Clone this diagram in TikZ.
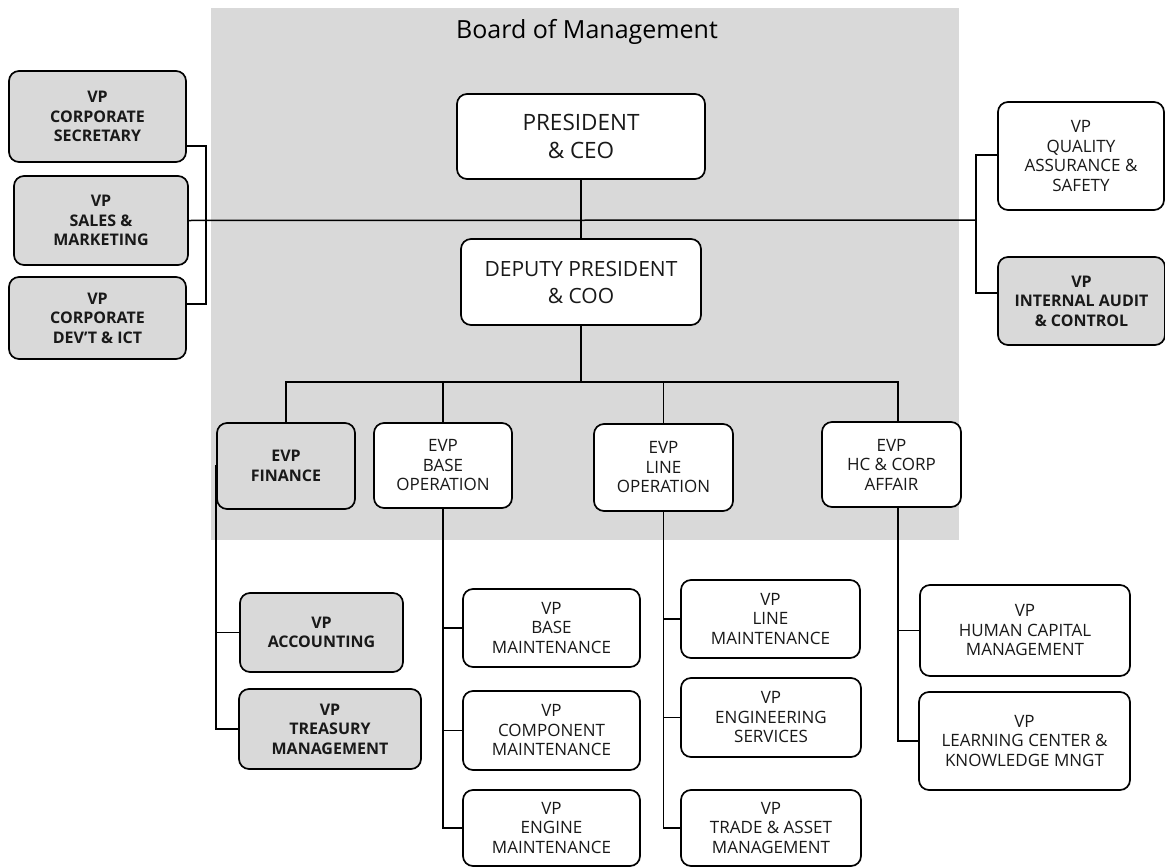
\documentclass[tikz,border=0pt]{standalone}
\usepackage{fontspec}
\setmainfont{Open Sans}
\usetikzlibrary{calc}
\tikzset{
  box/.style={draw=black, line width=1.7pt, rounded corners=10pt, align=center, inner sep=0pt, text=black!90, font=\fontsize{17}{19.5}\selectfont},
  wbox/.style={box, fill=white},
  gbox/.style={box, fill=black!15, font=\bfseries\fontsize{16}{19.5}\selectfont},
  bigbox/.style={wbox, font=\fontsize{22.5}{28}\selectfont},
  conn/.style={line width=1.5pt, line cap=rect},
}
\begin{document}
\begin{tikzpicture}[x=1pt,y=-1pt]
\useasboundingbox (0,0) rectangle (1165,867);
% board background
\fill[black!15] (211,8) rectangle (959,540);
\node[anchor=base, font=\fontsize{25}{28}\selectfont] (title) at (587,39) {Board of Management};

% top
\node[bigbox, minimum width=248, minimum height=85] (pres) at (581,136.5) {PRESIDENT\\ \& CEO};
\node[bigbox, minimum width=240, minimum height=86, font=\fontsize{21}{27}\selectfont] (dep) at (581,282) {DEPUTY PRESIDENT\\ \& COO};

% left staff
\node[gbox, minimum width=177, minimum height=91] (cs) at (97.5,116.5) {VP\\ CORPORATE\\ SECRETARY};
\node[gbox, minimum width=174, minimum height=89] (sm) at (101,220.5) {VP\\ SALES \&\\ MARKETING};
\node[gbox, minimum width=177, minimum height=82] (dv) at (97.5,318) {VP\\ CORPORATE\\ DEV'T \& ICT};

% right staff
\node[wbox, minimum width=166, minimum height=108] (qa) at (1081,156) {VP\\ QUALITY\\ ASSURANCE \&\\ SAFETY};
\node[gbox, minimum width=167, minimum height=88] (ia) at (1081.5,301) {VP\\ INTERNAL AUDIT\\ \& CONTROL};

% EVPs
\node[gbox, minimum width=138, minimum height=86] (fin) at (286,466) {EVP\\ FINANCE};
\node[wbox, minimum width=138, minimum height=85] (base) at (443,465.5) {EVP\\ BASE\\ OPERATION};
\node[wbox, minimum width=139, minimum height=87] (line) at (663.5,467.5) {EVP\\ LINE\\ OPERATION};
\node[wbox, minimum width=139, minimum height=85] (hc) at (891.5,464.5) {EVP\\ HC \& CORP\\ AFFAIR};

% VPs
\node[gbox, minimum width=163, minimum height=79] (acc) at (321.5,632.5) {VP\\ ACCOUNTING};
\node[gbox, minimum width=182, minimum height=80] (tre) at (330,729) {VP\\ TREASURY\\ MANAGEMENT};
\node[wbox, minimum width=177, minimum height=78] (bm) at (551.5,628) {VP\\ BASE\\ MAINTENANCE};
\node[wbox, minimum width=177, minimum height=79] (cm) at (551.5,730.5) {VP\\ COMPONENT\\ MAINTENANCE};
\node[wbox, minimum width=177, minimum height=76] (em) at (551.5,828) {VP\\ ENGINE\\ MAINTENANCE};
\node[wbox, minimum width=179, minimum height=78] (lm) at (770.5,619) {VP\\ LINE\\ MAINTENANCE};
\node[wbox, minimum width=180, minimum height=79] (es) at (771,717.5) {VP\\ ENGINEERING\\ SERVICES};
\node[wbox, minimum width=180, minimum height=76] (ta) at (771,828) {VP\\ TRADE \& ASSET\\ MANAGEMENT};
\node[wbox, minimum width=210, minimum height=91] (hcm) at (1025,630.5) {VP\\ HUMAN CAPITAL\\ MANAGEMENT};
\node[wbox, minimum width=211, minimum height=98] (lc) at (1024.5,741) {VP\\ LEARNING CENTER \&\\ KNOWLEDGE MNGT};

% connector helper coordinates
\coordinate (lbt) at (206,146);
\coordinate (lbb) at (206,304);
\coordinate (rbt) at (976,155);
\coordinate (rbb) at (976,293);
\coordinate (rbm) at (976,220);
\coordinate (bar) at (581,382);
\coordinate (hcx) at (898,382);

% top connectors
\draw[conn] (pres.south) -- (dep.north);
\draw[conn] (sm.east) -- (rbm);
\draw[conn] (lbt -| cs.east) -- (lbt) -- (lbb) -- (lbb -| dv.east);
\draw[conn] (rbt -| qa.west) -- (rbt) -- (rbb) -- (rbb -| ia.west);

% EVP bar
\draw[conn] (dep.south) -- (bar);
\draw[conn] (bar -| fin.north) -- (hcx);
\draw[conn] (bar -| fin.north) -- (fin.north);
\draw[conn] (bar -| base.north) -- (base.north);
\draw[conn] (bar -| line.north) -- (line.north);
\draw[conn] (hcx) -- (hcx |- hc.north);

% finance
\draw[conn] (fin.west) |- (tre.west);
\draw[conn] (fin.west |- acc.west) -- (acc.west);
% base
\draw[conn] (base.south) |- (em.west);
\draw[conn] (base.south |- bm.west) -- (bm.west);
\draw[conn] (base.south |- cm.west) -- (cm.west);
% line
\draw[conn] (line.south) |- (ta.west);
\draw[conn] (line.south |- lm.west) -- (lm.west);
\draw[conn] (line.south |- es.west) -- (es.west);
% hc
\draw[conn] (hcx |- hc.south) |- (lc.west);
\draw[conn] (hcx |- hcm.west) -- (hcm.west);
\end{tikzpicture}
\end{document}
